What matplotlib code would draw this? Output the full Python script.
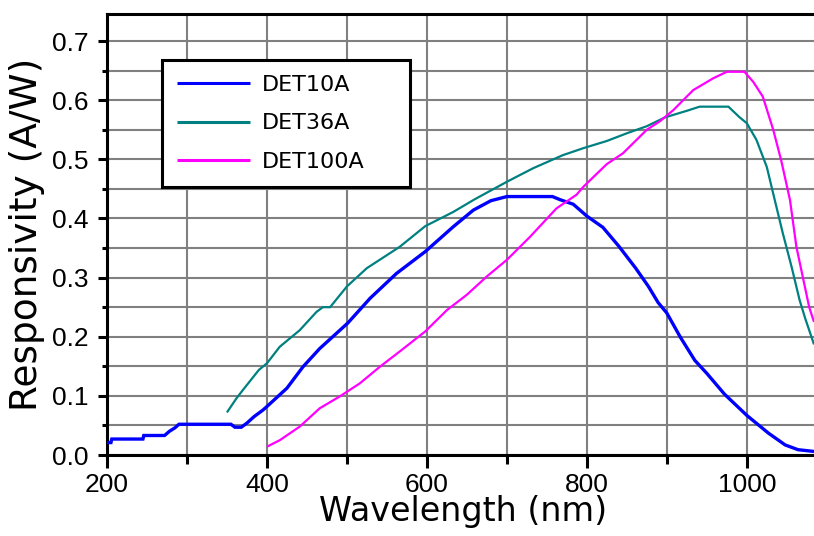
import numpy as np
import matplotlib.pyplot as plt
from matplotlib.ticker import MultipleLocator

# DET10A (blue)
wl_10a = [200, 205, 206, 245, 246, 272, 278, 285, 290, 355, 360, 368, 375, 384,
          395, 400, 425, 445, 466, 501, 529, 562, 598, 633, 658, 680, 700, 757,
          766, 783, 800, 820, 840, 861, 877, 889, 900, 917, 935, 950, 972, 1000,
          1027, 1048, 1064, 1084]
r_10a = [0.021, 0.021, 0.027, 0.027, 0.033, 0.033, 0.040, 0.046, 0.052, 0.052,
         0.047, 0.047, 0.054, 0.065, 0.076, 0.082, 0.113, 0.149, 0.180, 0.223,
         0.265, 0.307, 0.344, 0.386, 0.414, 0.430, 0.437, 0.437, 0.432, 0.424,
         0.404, 0.385, 0.353, 0.316, 0.285, 0.258, 0.240, 0.199, 0.160, 0.138,
         0.103, 0.067, 0.037, 0.017, 0.009, 0.006]

# DET36A (teal)
wl_36a = [350, 362, 370, 390, 400, 416, 441, 462, 470, 479, 500, 525, 566, 598,
          633, 658, 666, 700, 733, 770, 796, 825, 850, 875, 898, 925, 941, 977,
          991, 1000, 1012, 1025, 1033, 1045, 1056, 1066, 1073, 1084]
r_36a = [0.072, 0.096, 0.110, 0.144, 0.155, 0.183, 0.211, 0.242, 0.250, 0.250,
         0.285, 0.316, 0.352, 0.387, 0.411, 0.431, 0.437, 0.462, 0.485, 0.507,
         0.519, 0.531, 0.544, 0.556, 0.571, 0.582, 0.589, 0.589, 0.571, 0.561,
         0.533, 0.487, 0.442, 0.375, 0.318, 0.262, 0.231, 0.187]

# DET100A (magenta)
wl_100a = [400, 416, 441, 466, 491, 516, 541, 566, 598, 625, 650, 675, 700, 729,
           762, 787, 796, 825, 845, 875, 891, 908, 933, 958, 975, 997, 1008, 1020,
           1033, 1043, 1054, 1062, 1070, 1078, 1084]
r_100a = [0.014, 0.025, 0.048, 0.079, 0.099, 0.121, 0.149, 0.175, 0.209, 0.245,
          0.271, 0.302, 0.330, 0.369, 0.417, 0.440, 0.454, 0.492, 0.510, 0.550,
          0.564, 0.583, 0.617, 0.637, 0.648, 0.648, 0.631, 0.606, 0.550, 0.498,
          0.431, 0.352, 0.301, 0.250, 0.225]

labels = ['DET10A', 'DET36A', 'DET100A']
colors = ['#0000ff', '#008080', '#ff00ff']
widths = [2.4, 1.6, 1.6]

fig = plt.figure(figsize=(8.14, 5.36), dpi=100)
ax = fig.add_axes([0.1314, 0.1511, 0.8686, 0.8228])

for wl, r, lab, c, w in zip([wl_10a, wl_36a, wl_100a], [r_10a, r_36a, r_100a],
                            labels, colors, widths):
    ax.plot(wl, r, color=c, lw=w, label=lab, zorder=3,
            solid_joinstyle='miter', solid_capstyle='butt')

ax.set_xlim(200, 1084)
ax.set_ylim(0, 0.7457)

ax.xaxis.set_major_locator(MultipleLocator(200))
ax.xaxis.set_minor_locator(MultipleLocator(100))
ax.yaxis.set_major_locator(MultipleLocator(0.1))
ax.yaxis.set_minor_locator(MultipleLocator(0.05))
ax.yaxis.set_major_formatter(plt.FuncFormatter(lambda v, p: f'{v:.1f}'))

ax.grid(which='both', color='#808080', lw=1.5, zorder=1)
ax.set_axisbelow(True)

for s in ['left', 'bottom', 'top']:
    ax.spines[s].set_linewidth(2.2)
    ax.spines[s].set_color('black')
ax.spines['right'].set_visible(False)

ax.tick_params(axis='x', which='major', length=9.5, width=2.2, pad=3.5,
               labelsize=19, direction='out')
ax.tick_params(axis='x', which='minor', length=6.5, width=2.2, direction='out')
ax.tick_params(axis='y', which='major', length=6.5, width=2.2, pad=7,
               labelsize=19, direction='out')
ax.tick_params(axis='y', which='minor', length=3.8, width=2.2, direction='out')
for t in ax.get_xticklabels() + ax.get_yticklabels():
    t.set_fontfamily('Liberation Sans')

ax.set_xlabel('Wavelength (nm)', fontsize=24)
ax.set_ylabel('Responsivity (A/W)', fontsize=27)
ax.xaxis.set_label_coords(0.504, -0.09)
ax.yaxis.set_label_coords(-0.088, 0.5)

leg = ax.legend(loc='upper left', bbox_to_anchor=(0.0778, 0.6168, 0.3508, 0.2789),
                mode='expand', fontsize=16, handlelength=3.3, handletextpad=0.5,
                labelspacing=0.82, borderpad=0.68, fancybox=False, framealpha=1,
                borderaxespad=0)
leg.get_frame().set_edgecolor('black')
leg.get_frame().set_linewidth(2.2)
for line in leg.get_lines():
    line.set_linewidth(2.2)

fig.savefig('out.png', dpi=100)
